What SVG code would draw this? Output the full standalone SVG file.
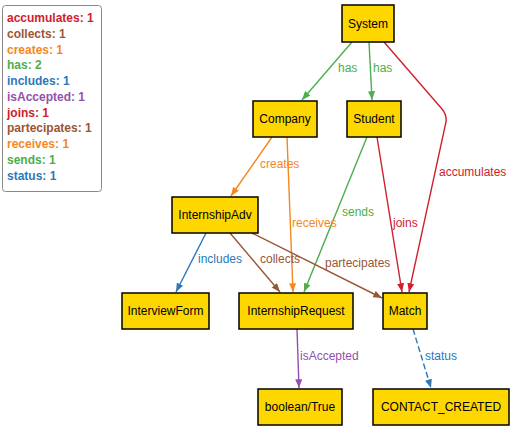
<svg xmlns="http://www.w3.org/2000/svg" width="515" height="437" viewBox="0 0 515 437">
<style>
.node rect{fill:#FFD700;stroke:#000;stroke-width:1.5}
.node text{font-family:"Liberation Sans",Arial,sans-serif;font-size:12px;fill:#000;text-anchor:middle}
.edge{fill:none;stroke-width:1.4}
.lbl{font-family:"Liberation Sans",Arial,sans-serif;font-size:12px}
.leg{font-family:"Liberation Sans",Arial,sans-serif;font-size:12px;font-weight:bold}
.red{stroke:#d0202e}.brown{stroke:#9a5634}.orange{stroke:#f5871f}.green{stroke:#4cae4c}.blue{stroke:#2d78b8}.purple{stroke:#9450ae}
.tred{fill:#d0202e}.tbrown{fill:#9a5634}.torange{fill:#f5871f}.tgreen{fill:#4cae4c}.tblue{fill:#2d78b8}.tpurple{fill:#9450ae}
</style>
<defs>
<marker id="a-red" viewBox="0 0 10 8" refX="10" refY="4" markerWidth="9" markerHeight="7" markerUnits="userSpaceOnUse" orient="auto"><path d="M0,0 L10,4 L0,8 z" fill="#d0202e"/></marker>
<marker id="a-brown" viewBox="0 0 10 8" refX="10" refY="4" markerWidth="9" markerHeight="7" markerUnits="userSpaceOnUse" orient="auto"><path d="M0,0 L10,4 L0,8 z" fill="#9a5634"/></marker>
<marker id="a-orange" viewBox="0 0 10 8" refX="10" refY="4" markerWidth="9" markerHeight="7" markerUnits="userSpaceOnUse" orient="auto"><path d="M0,0 L10,4 L0,8 z" fill="#f5871f"/></marker>
<marker id="a-green" viewBox="0 0 10 8" refX="10" refY="4" markerWidth="9" markerHeight="7" markerUnits="userSpaceOnUse" orient="auto"><path d="M0,0 L10,4 L0,8 z" fill="#4cae4c"/></marker>
<marker id="a-blue" viewBox="0 0 10 8" refX="10" refY="4" markerWidth="9" markerHeight="7" markerUnits="userSpaceOnUse" orient="auto"><path d="M0,0 L10,4 L0,8 z" fill="#2d78b8"/></marker>
<marker id="a-purple" viewBox="0 0 10 8" refX="10" refY="4" markerWidth="9" markerHeight="7" markerUnits="userSpaceOnUse" orient="auto"><path d="M0,0 L10,4 L0,8 z" fill="#9450ae"/></marker>
</defs>
<rect width="515" height="437" fill="#fff"/>
<g id="legend">
<rect x="2.5" y="5.5" width="99" height="186" rx="3" fill="#fff" stroke="#888" stroke-width="1"/>
<text class="leg tred" x="7" y="22">accumulates: 1</text>
<text class="leg tbrown" x="7" y="38">collects: 1</text>
<text class="leg torange" x="7" y="54">creates: 1</text>
<text class="leg tgreen" x="7" y="69">has: 2</text>
<text class="leg tblue" x="7" y="85">includes: 1</text>
<text class="leg tpurple" x="7" y="101">isAccepted: 1</text>
<text class="leg tred" x="7" y="117">joins: 1</text>
<text class="leg tbrown" x="7" y="132">partecipates: 1</text>
<text class="leg torange" x="7" y="148">receives: 1</text>
<text class="leg tgreen" x="7" y="164">sends: 1</text>
<text class="leg tblue" x="7" y="180">status: 1</text>
</g>
<g id="connectors">
<path class="edge green" d="M352,42 L302,100" marker-end="url(#a-green)"/>
<path class="edge green" d="M369,42 L372,100" marker-end="url(#a-green)"/>
<path class="edge red" d="M384,42 L442,109 Q447,115 446,122 L409,292" marker-end="url(#a-red)"/>
<path class="edge red" d="M377,137 L402,292" marker-end="url(#a-red)"/>
<path class="edge green" d="M367,137 L304,292" marker-end="url(#a-green)"/>
<path class="edge orange" d="M272,137 L231,196" marker-end="url(#a-orange)"/>
<path class="edge orange" d="M287,137 L293,292" marker-end="url(#a-orange)"/>
<path class="edge blue" d="M206,233 L176,292" marker-end="url(#a-blue)"/>
<path class="edge brown" d="M230,233 L280,292" marker-end="url(#a-brown)"/>
<path class="edge brown" d="M252,233 L382,298" marker-end="url(#a-brown)"/>
<path class="edge purple" d="M297,329 L299,388" marker-end="url(#a-purple)"/>
<path class="edge blue" d="M413,329 L431,388" stroke-dasharray="6,3" marker-end="url(#a-blue)"/>
<text class="lbl tgreen" x="338" y="72">has</text>
<text class="lbl tgreen" x="373" y="72">has</text>
<text class="lbl tred" x="439" y="176">accumulates</text>
<text class="lbl tred" x="393" y="227">joins</text>
<text class="lbl tgreen" x="342" y="216">sends</text>
<text class="lbl torange" x="260" y="168">creates</text>
<text class="lbl torange" x="292" y="227">receives</text>
<text class="lbl tblue" x="198" y="263">includes</text>
<text class="lbl tbrown" x="260" y="263">collects</text>
<text class="lbl tbrown" x="325" y="267">partecipates</text>
<text class="lbl tpurple" x="300" y="360">isAccepted</text>
<text class="lbl tblue" x="425" y="360">status</text>
</g>
<g id="System" class="node"><rect x="342" y="5" width="52" height="37"/><text x="368" y="28">System</text></g>
<g id="Company" class="node"><rect x="253" y="101" width="64" height="36"/><text x="285" y="123">Company</text></g>
<g id="Student" class="node"><rect x="347" y="101" width="54" height="36"/><text x="374" y="123">Student</text></g>
<g id="InternshipAdv" class="node"><rect x="172" y="197" width="86" height="36"/><text x="215" y="219">InternshipAdv</text></g>
<g id="InterviewForm" class="node"><rect x="122" y="293" width="87" height="36"/><text x="165.5" y="315">InterviewForm</text></g>
<g id="InternshipRequest" class="node"><rect x="239" y="293" width="114" height="36"/><text x="296" y="315">InternshipRequest</text></g>
<g id="Match" class="node"><rect x="383" y="293" width="44" height="36"/><text x="405" y="315">Match</text></g>
<g id="booleanTrue" class="node"><rect x="258" y="389" width="84" height="36"/><text x="300" y="411">boolean/True</text></g>
<g id="CONTACT_CREATED" class="node"><rect x="373" y="389" width="136" height="36"/><text x="441" y="411">CONTACT_CREATED</text></g>
</svg>
